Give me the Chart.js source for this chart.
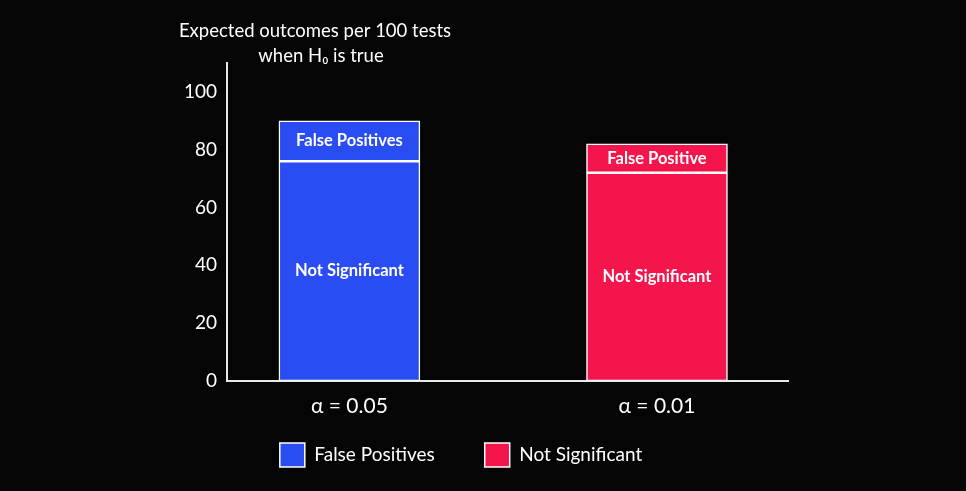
<!DOCTYPE html>
<html>
<head>
<meta charset="utf-8">
<script src="https://cdn.jsdelivr.net/npm/chart.js@4"></script>
<style>
  html, body { margin: 0; padding: 0; background: #050505; }
  #wrap { width: 966px; height: 491px; }
</style>
</head>
<body>
<div id="wrap"><canvas id="outcomeChart"></canvas></div>
<script>
// data
const alphaLabels = ['α = 0.05', 'α = 0.01'];
const notSignificant = [76, 72];
const falsePositives = [14, 10];
const topSegmentText = ['False Positives', 'False Positive'];
const yTicks = [0, 20, 40, 60, 80, 100];
const titleLines = ['Expected outcomes per 100 tests', 'when H₀ is true'];

const BLUE = '#2a4cf3';
const RED = '#f3154b';
const FONT = 'Lato, "Open Sans", sans-serif';

// bar colours follow the bar, legend colours follow the legend in the picture
const barColors = [BLUE, RED];
const legendColors = { 'False Positives': BLUE, 'Not Significant': RED };

const segmentLabels = {
    id: 'segmentLabels',
    afterDatasetsDraw(chart) {
        const ctx = chart.ctx;
        ctx.save();
        ctx.fillStyle = '#ffffff';
        ctx.font = 'bold 16.5px ' + FONT;
        ctx.textAlign = 'center';
        ctx.textBaseline = 'middle';
        chart.data.datasets.forEach((ds, di) => {
            chart.getDatasetMeta(di).data.forEach((bar, i) => {
                const txt = ds.segmentText ? ds.segmentText[i] : ds.label;
                const p = bar.getProps(['x', 'y', 'base'], true);
                ctx.fillText(txt, p.x, (p.y + p.base) / 2);
            });
        });
        ctx.restore();
    }
};

const axisTitle = {
    id: 'axisTitle',
    afterDraw(chart) {
        const ctx = chart.ctx;
        const cx = chart.chartArea.left + 88;
        ctx.save();
        ctx.fillStyle = '#ffffff';
        ctx.font = '18.5px ' + FONT;
        ctx.textAlign = 'center';
        ctx.textBaseline = 'middle';
        ctx.fillText(titleLines[0], cx, 31);
        ctx.fillText(titleLines[1], cx + 6, 56);
        ctx.restore();
    }
};

// pull the legend a little closer to the axis labels
const legendLift = {
    id: 'legendLift',
    afterLayout(chart) {
        const lg = chart.legend;
        lg.top -= 39;
        lg.bottom -= 39;
    }
};

const ctx = document.getElementById('outcomeChart').getContext('2d');

new Chart(ctx, {
    type: 'bar',
    data: {
        datasets: [{
            label: 'Not Significant',
            data: notSignificant.map((v, i) => ({ x: i, y: v })),
            backgroundColor: barColors,
            borderColor: '#ffffff',
            borderWidth: 1.5,
            borderSkipped: false,
            barThickness: 141
        }, {
            label: 'False Positives',
            segmentText: topSegmentText,
            data: falsePositives.map((v, i) => ({ x: i, y: v })),
            backgroundColor: barColors,
            borderColor: '#ffffff',
            borderWidth: 1.5,
            borderSkipped: false,
            barThickness: 141
        }]
    },
    options: {
        responsive: true,
        maintainAspectRatio: false,
        animation: false,
        layout: {
            padding: { top: 63, left: 134, right: 178, bottom: -25 }
        },
        scales: {
            x: {
                type: 'linear',
                stacked: true,
                offset: false,
                min: -0.398,
                max: 1.426,
                afterBuildTicks: (scale) => {
                    scale.ticks = alphaLabels.map((_, i) => ({ value: i }));
                },
                grid: { display: false, drawTicks: false },
                border: { color: '#e8e8e8', width: 2 },
                ticks: {
                    color: '#ffffff',
                    font: { family: FONT, size: 21 },
                    padding: 13,
                    maxRotation: 0,
                    autoSkip: false,
                    callback: (v) => alphaLabels[v]
                }
            },
            y: {
                stacked: true,
                min: 0,
                max: 110,
                afterBuildTicks: (scale) => {
                    scale.ticks = yTicks.map(v => ({ value: v }));
                },
                afterFit: (scale) => { scale.width = 93; },
                grid: { display: false, drawTicks: false },
                border: { color: '#e8e8e8', width: 2 },
                ticks: {
                    color: '#ffffff',
                    font: { family: FONT, size: 19 },
                    padding: 10
                }
            }
        },
        plugins: {
            tooltip: { enabled: false },
            legend: {
                position: 'bottom',
                reverse: true,
                labels: {
                    color: '#ffffff',
                    font: { family: FONT, size: 19 },
                    boxWidth: 25,
                    boxHeight: 24,
                    padding: 50,
                    generateLabels: (chart) => {
                        const items = Chart.defaults.plugins.legend.labels.generateLabels(chart);
                        items.forEach(it => {
                            it.fillStyle = legendColors[it.text];
                            it.strokeStyle = '#ffffff';
                            it.lineWidth = 1.5;
                        });
                        return items;
                    }
                }
            }
        }
    },
    plugins: [segmentLabels, axisTitle, legendLift]
});
</script>
</body>
</html>
